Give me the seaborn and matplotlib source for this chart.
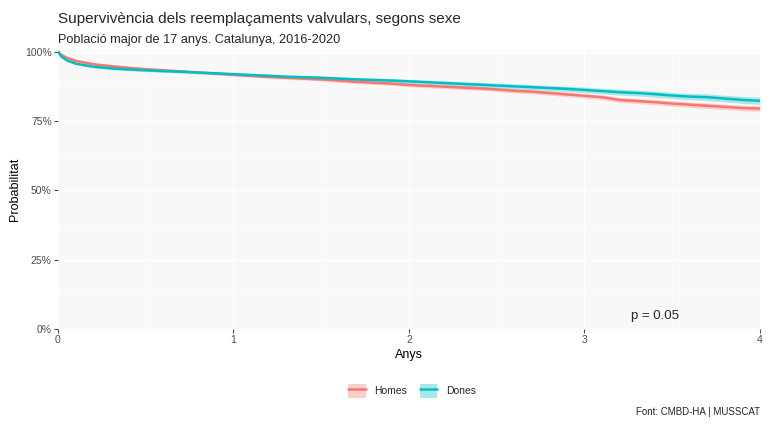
import numpy as np
import pandas as pd
import seaborn as sns
import matplotlib.pyplot as plt
from matplotlib.patches import Patch
from matplotlib.lines import Line2D

# corbes de supervivència (Kaplan-Meier) llegides del gràfic
temps = [0, 0.02, 0.05, 0.1, 0.2, 0.3, 0.4, 0.5, 0.6, 0.7, 0.8, 0.9,
         1.0, 1.1, 1.2, 1.3, 1.4, 1.5, 1.6, 1.7, 1.8, 1.9,
         2.0, 2.1, 2.2, 2.3, 2.4, 2.5, 2.6, 2.7, 2.8, 2.9,
         3.0, 3.1, 3.2, 3.3, 3.4, 3.5, 3.6, 3.7, 3.8, 3.9, 4.0]
surv_homes = [100, 98.8, 97.8, 96.7, 95.5, 94.8, 94.2, 93.7, 93.3, 92.9, 92.5, 92.1,
              91.7, 91.3, 90.9, 90.6, 90.3, 90.0, 89.6, 89.1, 88.8, 88.5,
              88.0, 87.7, 87.4, 87.1, 86.8, 86.4, 85.9, 85.6, 85.1, 84.6,
              84.1, 83.6, 82.6, 82.2, 81.8, 81.3, 80.9, 80.5, 80.1, 79.7, 79.5]
surv_dones = [100, 98.2, 96.9, 95.7, 94.6, 94.0, 93.6, 93.3, 93.0, 92.8, 92.5, 92.2,
              91.9, 91.6, 91.3, 91.0, 90.8, 90.6, 90.3, 90.0, 89.8, 89.6,
              89.3, 89.0, 88.7, 88.4, 88.1, 87.8, 87.5, 87.2, 86.9, 86.6,
              86.2, 85.8, 85.4, 85.1, 84.7, 84.2, 83.8, 83.6, 83.1, 82.6, 82.3]
# semiamplada de l'interval de confiança (punts percentuals)
ic_homes = [0, 0.2, 0.25, 0.3, 0.35, 0.35, 0.4, 0.4, 0.4, 0.45, 0.45, 0.45,
            0.5, 0.5, 0.5, 0.55, 0.55, 0.55, 0.6, 0.6, 0.6, 0.65,
            0.65, 0.65, 0.7, 0.7, 0.7, 0.75, 0.75, 0.8, 0.8, 0.8,
            0.85, 0.85, 0.9, 0.9, 0.9, 0.95, 0.95, 1.0, 1.0, 1.0, 1.05]
ic_dones = [0, 0.25, 0.3, 0.35, 0.4, 0.4, 0.45, 0.45, 0.45, 0.5, 0.5, 0.5,
            0.55, 0.55, 0.6, 0.6, 0.6, 0.65, 0.65, 0.7, 0.7, 0.7,
            0.75, 0.75, 0.8, 0.8, 0.85, 0.85, 0.9, 0.9, 0.95, 0.95,
            1.0, 1.0, 1.05, 1.05, 1.1, 1.1, 1.15, 1.2, 1.2, 1.25, 1.3]
grups = ["Homes", "Dones"]
colors = {"Homes": "#F8766D", "Dones": "#00BFC4"}

df = pd.concat([
    pd.DataFrame({"Anys": temps, "surv": np.array(surv_homes) / 100,
                  "ic": np.array(ic_homes) / 100, "sexe": "Homes"}),
    pd.DataFrame({"Anys": temps, "surv": np.array(surv_dones) / 100,
                  "ic": np.array(ic_dones) / 100, "sexe": "Dones"}),
])

sns.set_theme(style="white")
plt.rcParams['font.family'] = ['Liberation Sans', 'DejaVu Sans']

fig = plt.figure(figsize=(7.7, 4.24), dpi=100)
ax = fig.add_axes([0.0753, 0.224, 0.9117, 0.658])
ax.set_facecolor("#F8F8F8")

for g in grups:
    d = df[df.sexe == g]
    ax.fill_between(d.Anys, d.surv - d.ic, d.surv + d.ic,
                    color=colors[g], alpha=0.3, lw=0)

sns.lineplot(data=df, x="Anys", y="surv", hue="sexe", palette=colors,
             lw=1.8, ax=ax, legend=False, estimator=None, errorbar=None)

ax.set_xlim(0, 4)
ax.set_ylim(0, 1.006)
ax.set_xticks([0, 1, 2, 3, 4])
ax.set_yticks([0, 0.25, 0.5, 0.75, 1.0])
ax.set_yticklabels(["0%", "25%", "50%", "75%", "100%"])
ax.set_xticks([0.5, 1.5, 2.5, 3.5], minor=True)
ax.set_yticks([0.125, 0.375, 0.625, 0.875], minor=True)
ax.grid(True, which="major", color="white", lw=1.0)
ax.grid(True, which="minor", color="white", lw=0.5)
ax.set_axisbelow(True)
for s in ax.spines.values():
    s.set_visible(False)
ax.tick_params(axis="both", which="major", length=3, width=0.8, color="#4D4D4D",
               labelsize=7.5, labelcolor="#4D4D4D", pad=1.5, bottom=True, left=True)
ax.tick_params(which="minor", length=0)
ax.set_xlabel("Anys", fontsize=9, color="black", labelpad=3)
ax.set_ylabel("Probabilitat", fontsize=9, color="black", labelpad=3)

ax.text(3.4, 0.047, "p = 0.05", fontsize=9.5, ha="center", va="center")

fig.text(0.0753, 0.955, "Supervivència dels reemplaçaments valvulars, segons sexe",
         fontsize=11, va="center")
fig.text(0.0753, 0.905, "Població major de 17 anys. Catalunya, 2016-2020",
         fontsize=9.2, va="center")
fig.text(0.987, 0.028, "Font: CMBD-HA | MUSSCAT", fontsize=7, ha="right", va="center")

handles = [(Patch(facecolor=colors[g], alpha=0.35, lw=0),
            Line2D([], [], color=colors[g], lw=1.8)) for g in grups]
fig.legend(handles, grups, loc="center", bbox_to_anchor=(0.535, 0.078), ncol=2,
           frameon=False, fontsize=7.5, handlelength=1.7, handleheight=1.7,
           columnspacing=1.2, handletextpad=0.8)

fig.savefig("out.png", dpi=100)
